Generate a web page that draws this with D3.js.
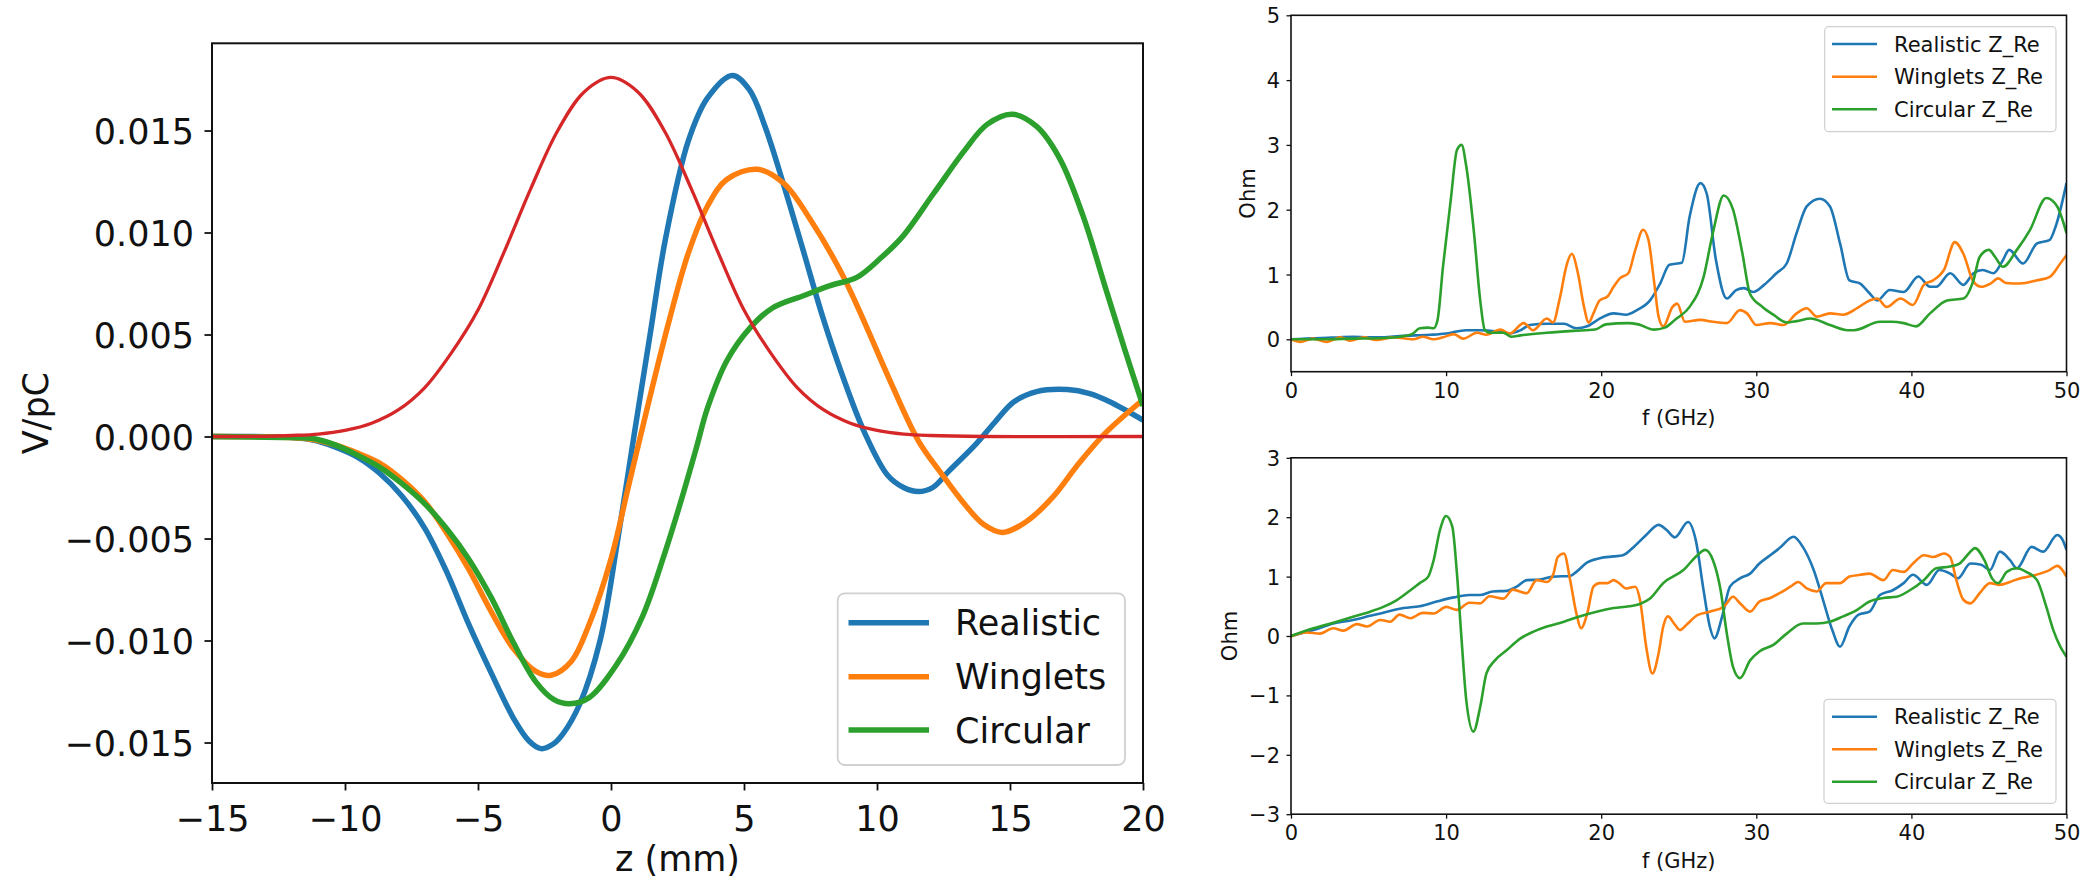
<!DOCTYPE html>
<html>
<head>
<meta charset="utf-8">
<script src="https://cdn.jsdelivr.net/npm/d3@7"></script>
<style>
  body { margin: 0; background: #fff; }
  svg { display: block; }
  text { font-family: "DejaVu Sans", sans-serif; fill: #111; }
</style>
</head>
<body>
<svg id="fig" width="2096" height="881"></svg>
<script>
// ---------- wake potential (left panel): [z (mm), V/pC] ----------
const wakeRealistic = [
  [-15, 0], [-12, -0.00005], [-11.2, -0.00017], [-10.4, -0.0005], [-9.55, -0.001],
  [-8.7, -0.0018], [-7.87, -0.0029], [-7.0, -0.0045], [-6.19, -0.0066],
  [-5.35, -0.0092], [-4.5, -0.0116], [-3.67, -0.0138], [-3.1, -0.0149], [-2.63, -0.0153],
  [-2.2, -0.0151], [-1.82, -0.0146], [-1.17, -0.0131], [-0.41, -0.0100], [0.26, -0.0050],
  [0.86, 0.0000], [1.47, 0.0050], [2.05, 0.0097], [2.91, 0.0145], [3.63, 0.0166],
  [4.56, 0.0177], [5.2, 0.0170], [5.79, 0.0152], [6.5, 0.0123], [7.23, 0.0091],
  [7.95, 0.0059], [8.67, 0.0031], [9.53, 0.0002], [10.4, -0.0019], [11.0, -0.0025],
  [11.55, -0.0027], [12.1, -0.0025], [12.7, -0.0017], [13.7, -0.0004], [14.43, 0.0007],
  [15.15, 0.0017], [16.0, 0.0022], [17.16, 0.0023], [18.0, 0.0021], [18.75, 0.0017],
  [20, 0.0008]
];
const wakeWinglets = [
  [-15, 0], [-12, -0.00005], [-11.2, -0.00015], [-10.4, -0.0004], [-9.55, -0.0008],
  [-8.7, -0.0013], [-7.87, -0.0021], [-7.0, -0.0032], [-6.19, -0.0047], [-5.35, -0.0065],
  [-4.5, -0.0086], [-3.67, -0.0104], [-2.84, -0.0115], [-2.25, -0.0117], [-1.48, -0.0110],
  [-0.82, -0.0092], [0.0, -0.0060], [0.7, -0.0022], [1.4, 0.0016],
  [2.19, 0.0057], [2.91, 0.009], [3.63, 0.0113], [4.35, 0.0126], [5.5, 0.0131],
  [6.5, 0.0124], [7.51, 0.0106], [8.67, 0.008], [9.53, 0.0056], [10.4, 0.003],
  [11.55, -0.0002], [12.41, -0.0018], [13.28, -0.0033], [14.0, -0.0043], [14.72, -0.0047],
  [15.58, -0.0042], [16.59, -0.003], [17.6, -0.0013], [18.61, 0.0002], [20, 0.0018]
];
const wakeCircular = [
  [-15, 0], [-12, -0.00005], [-11.2, -0.0001], [-10.4, -0.0004], [-9.55, -0.0009],
  [-8.7, -0.0015], [-7.87, -0.0023], [-7.0, -0.0033], [-6.19, -0.0045], [-5.35, -0.006],
  [-4.5, -0.0079], [-3.67, -0.0101], [-2.84, -0.0120], [-2.14, -0.0129], [-1.56, -0.0131],
  [-0.82, -0.0128], [0.2, -0.0112], [1.19, -0.0088], [2.0, -0.0058], [2.6, -0.0033],
  [3.2, -0.0006], [3.63, 0.0014], [4.35, 0.0037], [5.21, 0.0053], [6.07, 0.0063],
  [7.23, 0.0069], [8.24, 0.0074], [9.24, 0.0078], [10.1, 0.0087], [10.96, 0.0098],
  [12.12, 0.0119], [13.28, 0.014], [14.14, 0.0153], [15.08, 0.0158], [16.0, 0.0152],
  [16.88, 0.0136], [17.75, 0.0108], [18.61, 0.0072], [19.33, 0.0042], [20, 0.0015]
];
const bunchProfile = [
  [-15, 0], [-13, 0.00001], [-12, 0.00005], [-11, 0.00012], [-10, 0.0003], [-9, 0.00065],
  [-8, 0.0013], [-7, 0.0024], [-6, 0.0041], [-5, 0.0062], [-4, 0.0091], [-3, 0.0122],
  [-2, 0.0150], [-1, 0.0169], [0, 0.0176], [1, 0.0169], [2, 0.0150], [3, 0.0122],
  [4, 0.0091], [5, 0.0062], [6, 0.0041], [7, 0.0024], [8, 0.0013], [9, 0.00065],
  [10, 0.0003], [11, 0.00012], [12, 0.00005], [14, 0], [20, 0]
];

// ---------- impedance, upper right: [f (GHz), Ohm] ----------
const zUpperRealistic = [
  [0, 0], [1, 0.01], [2, 0.02], [3, 0.03], [4, 0.04], [5, 0.03], [6, 0.03], [7, 0.05],
  [8, 0.06], [9, 0.07], [10, 0.09], [10.7, 0.12], [11.3, 0.14], [12.2, 0.14], [13.3, 0.12],
  [14.1, 0.09], [14.8, 0.14], [15.4, 0.22], [16.5, 0.24], [17.6, 0.24], [18.4, 0.17],
  [19.1, 0.2], [19.9, 0.32], [20.8, 0.4], [21.6, 0.38], [22.3, 0.45], [23.15, 0.6],
  [23.8, 0.86], [24.4, 1.15], [25.2, 1.18], [25.7, 1.89], [26.4, 2.41], [26.8, 2.25],
  [27.4, 1.22], [28.1, 0.63], [28.7, 0.76], [29.2, 0.79], [29.8, 0.73], [30.5, 0.84],
  [31.3, 1.02], [31.96, 1.17], [32.6, 1.64], [33.25, 2.05], [34.1, 2.17], [34.75, 2.05],
  [35.4, 1.48], [36.0, 0.91], [36.7, 0.86], [37.3, 0.71], [37.8, 0.6], [38.6, 0.76],
  [39.5, 0.73], [40.45, 0.97], [41.2, 0.81], [41.6, 0.81], [42.5, 1.02], [43.35, 0.84],
  [44.0, 1.02], [44.6, 1.07], [45.3, 1.02], [45.9, 1.22], [46.3, 1.38], [47.2, 1.17],
  [48.1, 1.48], [48.9, 1.53], [49.3, 1.74], [50, 2.41]
];
const zUpperWinglets = [
  [0, 0], [0.6, -0.04], [1.4, 0.01], [2.3, -0.04], [3.2, 0.03], [3.8, -0.02], [4.7, 0.03],
  [5.5, -0.01], [6.6, 0.03], [7.9, 0.0], [8.5, 0.04], [9.2, 0.0], [9.8, 0.03], [10.5, 0.08],
  [11.1, 0.01], [12.0, 0.1], [12.6, 0.07], [13.5, 0.15], [14.1, 0.09], [15.0, 0.25],
  [15.6, 0.14], [16.5, 0.32], [16.9, 0.26], [17.3, 0.6], [17.8, 1.17], [18.1, 1.32],
  [18.5, 1.02], [18.85, 0.55], [19.2, 0.26], [19.5, 0.4], [19.9, 0.6], [20.4, 0.66],
  [20.8, 0.81], [21.2, 0.94], [21.75, 1.02], [22.2, 1.38], [22.7, 1.69], [23.05, 1.53],
  [23.4, 0.91], [23.7, 0.35], [24.0, 0.2], [24.6, 0.5], [24.9, 0.55], [25.4, 0.27],
  [26.4, 0.3], [27.2, 0.27], [28.1, 0.25], [28.95, 0.45], [29.4, 0.4], [30.0, 0.22],
  [30.9, 0.25], [31.75, 0.22], [32.6, 0.4], [33.25, 0.48], [33.9, 0.35], [34.75, 0.4],
  [35.6, 0.38], [36.5, 0.48], [37.3, 0.6], [37.8, 0.63], [38.4, 0.5], [39.3, 0.63],
  [40.1, 0.53], [40.8, 0.84], [41.4, 0.91], [42.1, 1.07], [42.8, 1.5], [43.35, 1.32],
  [44.0, 0.89], [44.5, 0.81], [45.1, 0.86], [45.6, 0.94], [46.1, 0.87], [47.0, 0.86],
  [48.1, 0.91], [48.9, 0.96], [49.6, 1.17], [50, 1.3]
];
const zUpperCircular = [
  [0, 0], [2, 0], [4, 0.01], [6, 0.02], [7, 0.04], [7.8, 0.08], [8.3, 0.17], [8.85, 0.18],
  [9.2, 0.17], [9.45, 0.3], [9.8, 1.12], [10.3, 2.15], [10.7, 2.92], [11.0, 3.0],
  [11.3, 2.67], [11.8, 1.64], [12.2, 0.6], [12.5, 0.14], [12.8, 0.1], [13.7, 0.1],
  [14.2, 0.04], [14.8, 0.06], [16.5, 0.1], [18.2, 0.13], [19.6, 0.15], [20.3, 0.23],
  [21.7, 0.25], [22.4, 0.23], [23.4, 0.15], [24.1, 0.18], [24.8, 0.31], [25.7, 0.5],
  [26.6, 0.96], [27.2, 1.64], [27.9, 2.22], [28.5, 2.0], [29.1, 1.33], [29.6, 0.7],
  [30.4, 0.5], [31.1, 0.38], [31.96, 0.26], [32.6, 0.28], [33.5, 0.32], [34.75, 0.22],
  [35.9, 0.14], [36.3, 0.14], [37.97, 0.27], [38.7, 0.27], [39.5, 0.25], [40.3, 0.2],
  [41.2, 0.4], [42.3, 0.6], [43.35, 0.63], [44.0, 0.91], [44.4, 1.27], [45.0, 1.38],
  [45.4, 1.27], [45.9, 1.12], [46.8, 1.38], [47.65, 1.69], [48.7, 2.18], [49.4, 2.05],
  [50, 1.64]
];

// ---------- impedance, lower right: [f (GHz), Ohm] ----------
const zLowerRealistic = [
  [0, 0], [1.44, 0.1], [2.73, 0.21], [4.0, 0.27], [5.1, 0.34], [6.2, 0.41], [7.25, 0.47],
  [8.3, 0.5], [9.4, 0.58], [10.5, 0.65], [11.5, 0.69], [12.2, 0.69], [13.0, 0.75],
  [13.9, 0.76], [14.55, 0.83], [15.2, 0.94], [16.05, 0.95], [16.9, 1.0], [18.0, 1.01],
  [18.4, 1.08], [19.1, 1.24], [19.9, 1.31], [20.8, 1.34], [21.4, 1.36], [22.1, 1.5],
  [22.9, 1.7], [23.7, 1.87], [24.2, 1.79], [24.75, 1.66], [25.6, 1.92], [26.1, 1.61],
  [26.6, 0.77], [27.0, 0.16], [27.3, -0.04], [27.8, 0.33], [28.3, 0.83], [28.95, 0.97],
  [29.6, 1.05], [30.2, 1.22], [30.9, 1.36], [31.5, 1.48], [32.4, 1.67], [33.0, 1.5],
  [33.7, 1.11], [34.3, 0.61], [34.9, 0.1], [35.4, -0.18], [36.0, 0.16], [36.6, 0.36],
  [37.3, 0.41], [37.97, 0.69], [38.8, 0.77], [39.5, 0.89], [40.1, 1.03], [41.0, 0.86],
  [41.8, 1.11], [42.5, 1.05], [43.0, 0.97], [43.8, 1.22], [44.5, 1.2], [45.06, 1.11],
  [45.7, 1.42], [46.35, 1.28], [46.8, 1.14], [47.75, 1.5], [48.5, 1.42], [49.4, 1.7],
  [49.7, 1.64], [50, 1.45]
];
const zLowerWinglets = [
  [0, -0.01], [1.0, 0.06], [1.87, 0.04], [2.73, 0.13], [3.38, 0.09], [4.24, 0.2],
  [4.9, 0.16], [5.74, 0.27], [6.4, 0.24], [7.0, 0.36], [7.7, 0.3], [8.5, 0.39], [9.2, 0.38],
  [10.0, 0.49], [10.7, 0.44], [11.5, 0.56], [12.2, 0.55], [12.8, 0.67], [13.7, 0.63],
  [14.3, 0.78], [15.2, 0.72], [15.84, 0.94], [16.5, 0.91], [16.9, 1.03], [17.2, 1.33],
  [17.6, 1.39], [18.0, 0.94], [18.4, 0.38], [18.7, 0.13], [19.1, 0.38], [19.5, 0.83],
  [19.9, 0.89], [20.4, 0.89], [20.8, 0.94], [21.2, 0.88], [21.6, 0.8], [22.2, 0.83],
  [22.5, 0.61], [22.9, -0.18], [23.3, -0.63], [23.7, -0.29], [24.0, 0.16], [24.3, 0.33],
  [24.75, 0.19], [25.08, 0.1], [25.5, 0.19], [26.2, 0.35], [27.0, 0.41], [27.9, 0.49],
  [28.5, 0.66], [28.95, 0.55], [29.6, 0.41], [30.2, 0.58], [30.9, 0.64], [31.5, 0.72],
  [32.2, 0.83], [32.7, 0.91], [33.25, 0.8], [33.9, 0.75], [34.5, 0.89], [35.4, 0.89],
  [36.0, 1.0], [36.7, 1.03], [37.3, 1.05], [38.2, 0.94], [38.8, 1.11], [39.5, 1.08],
  [40.1, 1.22], [40.8, 1.36], [41.4, 1.33], [42.1, 1.39], [42.5, 1.33], [42.9, 0.94],
  [43.35, 0.61], [43.8, 0.55], [44.4, 0.72], [45.06, 0.89], [45.7, 0.86], [46.35, 0.91],
  [47.0, 0.97], [47.6, 1.0], [48.3, 1.05], [48.9, 1.11], [49.4, 1.18], [50, 1.0]
];
const zLowerCircular = [
  [0, 0], [1.44, 0.13], [2.73, 0.225], [4.0, 0.325], [5.1, 0.41], [5.95, 0.49], [6.8, 0.6],
  [7.7, 0.77], [8.3, 0.89], [8.85, 1.0], [9.2, 1.28], [9.6, 1.78], [10.0, 2.02],
  [10.4, 1.84], [10.7, 1.05], [11.0, -0.07], [11.3, -1.08], [11.76, -1.61], [12.2, -1.19],
  [12.6, -0.63], [13.15, -0.41], [13.9, -0.24], [14.8, -0.04], [15.6, 0.07], [16.5, 0.16],
  [17.6, 0.24], [18.6, 0.33], [19.7, 0.41], [20.8, 0.47], [21.8, 0.5], [22.5, 0.54],
  [23.15, 0.63], [24.0, 0.89], [25.3, 1.11], [26.2, 1.36], [26.7, 1.45], [27.2, 1.28],
  [27.7, 0.77], [28.1, 0.04], [28.5, -0.52], [28.95, -0.71], [29.6, -0.41], [30.2, -0.26],
  [31.1, -0.15], [31.96, 0.04], [33.0, 0.21], [33.9, 0.21], [34.75, 0.24], [35.6, 0.33],
  [36.5, 0.44], [37.3, 0.58], [38.2, 0.64], [39.05, 0.66], [39.9, 0.77], [40.8, 0.94],
  [41.6, 1.14], [42.5, 1.17], [43.1, 1.22], [43.7, 1.39], [44.1, 1.48], [44.7, 1.28],
  [45.2, 0.97], [45.6, 0.89], [46.15, 1.08], [46.8, 1.14], [47.4, 1.08], [48.1, 0.94],
  [48.7, 0.49], [49.15, 0.1], [49.6, -0.18], [50, -0.35]
];

// ---------- tick values and labels ----------
const wakeZTicks = [-15, -10, -5, 0, 5, 10, 15, 20];
const wakeVTicks = [-0.015, -0.010, -0.005, 0.000, 0.005, 0.010, 0.015];
const freqTicks = [0, 10, 20, 30, 40, 50];
const upperOhmTicks = [0, 1, 2, 3, 4, 5];
const lowerOhmTicks = [-3, -2, -1, 0, 1, 2, 3];
const wakeLegend = ["Realistic", "Winglets", "Circular"];
const impedanceLegend = ["Realistic Z_Re", "Winglets Z_Re", "Circular Z_Re"];

const BLUE = "#1f77b4", ORANGE = "#ff7f0e", GREEN = "#2ca02c", RED = "#d62728";

const svg = d3.select("#fig");
svg.append("rect").attr("width", 2096).attr("height", 881).attr("fill", "#fff");
const defs = svg.append("defs");
let clipCount = 0;

function panel(cfg) {
  const g = svg.append("g");
  const x = d3.scaleLinear().domain(cfg.xDomain).range([cfg.left, cfg.right]);
  const y = d3.scaleLinear().domain(cfg.yDomain).range([cfg.bottom, cfg.top]);
  const id = "clip" + (clipCount++);
  defs.append("clipPath").attr("id", id).append("rect")
    .attr("x", cfg.left).attr("y", cfg.top)
    .attr("width", cfg.right - cfg.left).attr("height", cfg.bottom - cfg.top);

  const line = d3.line().x(d => x(d[0])).y(d => y(d[1])).curve(cfg.curve);
  const plot = g.append("g").attr("clip-path", `url(#${id})`);
  cfg.series.forEach(s => {
    plot.append("path").datum(s.data)
      .attr("d", line).attr("fill", "none")
      .attr("stroke", s.color).attr("stroke-width", s.width)
      .attr("stroke-linejoin", "round").attr("stroke-linecap", "butt");
  });

  // axes
  const ax = g.append("g").attr("transform", `translate(0,${cfg.bottom})`)
    .call(d3.axisBottom(x).tickValues(cfg.xTicks).tickFormat(cfg.xFormat)
      .tickSize(cfg.tickLen).tickPadding(cfg.xPad));
  const ay = g.append("g").attr("transform", `translate(${cfg.left},0)`)
    .call(d3.axisLeft(y).tickValues(cfg.yTicks).tickFormat(cfg.yFormat)
      .tickSize(cfg.tickLen).tickPadding(cfg.yPad));
  [ax, ay].forEach(a => {
    a.select(".domain").remove();
    a.selectAll(".tick line").attr("stroke", "#111").attr("stroke-width", cfg.tickWidth);
    a.selectAll(".tick text").attr("font-size", cfg.fontSize)
      .attr("font-family", "DejaVu Sans").attr("fill", "#111");
  });
  ay.selectAll(".tick text").attr("dy", "0.36em");

  // frame
  g.append("rect").attr("x", cfg.left).attr("y", cfg.top)
    .attr("width", cfg.right - cfg.left).attr("height", cfg.bottom - cfg.top)
    .attr("fill", "none").attr("stroke", "#111").attr("stroke-width", cfg.frameWidth);

  // axis titles
  g.append("text").attr("x", (cfg.left + cfg.right) / 2).attr("y", cfg.xTitleY)
    .attr("text-anchor", "middle").attr("font-size", cfg.fontSize).text(cfg.xTitle);
  g.append("text")
    .attr("transform", `translate(${cfg.yTitleX},${(cfg.top + cfg.bottom) / 2}) rotate(-90)`)
    .attr("text-anchor", "middle").attr("font-size", cfg.fontSize).text(cfg.yTitle);

  // legend
  const L = cfg.legend;
  const lg = g.append("g");
  lg.append("rect").attr("x", L.x0).attr("y", L.y0)
    .attr("width", L.x1 - L.x0).attr("height", L.y1 - L.y0)
    .attr("rx", L.r).attr("fill", "#fff").attr("fill-opacity", 0.8)
    .attr("stroke", "#d0d0d0").attr("stroke-width", L.stroke);
  L.labels.forEach((lab, i) => {
    const s = cfg.series[i];
    const yy = L.rows[i];
    lg.append("line").attr("x1", L.lineX0).attr("x2", L.lineX1)
      .attr("y1", yy).attr("y2", yy)
      .attr("stroke", s.color).attr("stroke-width", s.width);
    lg.append("text").attr("x", L.textX).attr("y", yy).attr("dy", "0.36em")
      .attr("font-size", cfg.fontSize).text(lab);
  });
}

const fmt3 = d3.format(".3f");
const fmtInt = d3.format("d");

// left: wake potentials with the bunch profile
panel({
  left: 212, right: 1143, top: 43.3, bottom: 783,
  xDomain: [-15, 20], yDomain: [-0.016985, 0.019275],
  xTicks: wakeZTicks, yTicks: wakeVTicks, xFormat: fmtInt, yFormat: fmt3,
  tickLen: 7.5, tickWidth: 1.8, xPad: 15.5, yPad: 10.5, frameWidth: 2,
  fontSize: 35, curve: d3.curveCatmullRom.alpha(0.5),
  xTitle: "z (mm)", xTitleY: 871, yTitle: "V/pC", yTitleX: 48,
  series: [
    { data: wakeRealistic, color: BLUE, width: 5.5 },
    { data: wakeWinglets, color: ORANGE, width: 5.5 },
    { data: wakeCircular, color: GREEN, width: 5.5 },
    { data: bunchProfile, color: RED, width: 3.3 }
  ],
  legend: { x0: 837.7, x1: 1125, y0: 593.3, y1: 765, r: 7, stroke: 1.8,
    lineX0: 848.5, lineX1: 929, textX: 955, rows: [622.7, 676.7, 730], labels: wakeLegend }
});

// upper right: impedance
panel({
  left: 1291, right: 2066.5, top: 15.3, bottom: 371.7,
  xDomain: [0, 50], yDomain: [-0.5, 5],
  xTicks: freqTicks, yTicks: upperOhmTicks, xFormat: fmtInt, yFormat: fmtInt,
  tickLen: 4.5, tickWidth: 1.3, xPad: 6.5, yPad: 6.5, frameWidth: 1.6,
  fontSize: 21, curve: d3.curveMonotoneX,
  xTitle: "f (GHz)", xTitleY: 425, yTitle: "Ohm", yTitleX: 1255,
  series: [
    { data: zUpperRealistic, color: BLUE, width: 2.6 },
    { data: zUpperWinglets, color: ORANGE, width: 2.6 },
    { data: zUpperCircular, color: GREEN, width: 2.6 }
  ],
  legend: { x0: 1824.7, x1: 2056, y0: 26.7, y1: 131.7, r: 4, stroke: 1.2,
    lineX0: 1832, lineX1: 1877, textX: 1894, rows: [44, 76.7, 109.3], labels: impedanceLegend }
});

// lower right: impedance
panel({
  left: 1291, right: 2066.5, top: 457.8, bottom: 814.2,
  xDomain: [0, 50], yDomain: [-3, 3],
  xTicks: freqTicks, yTicks: lowerOhmTicks, xFormat: fmtInt, yFormat: fmtInt,
  tickLen: 4.5, tickWidth: 1.3, xPad: 6.5, yPad: 6.5, frameWidth: 1.6,
  fontSize: 21, curve: d3.curveMonotoneX,
  xTitle: "f (GHz)", xTitleY: 868, yTitle: "Ohm", yTitleX: 1236.5,
  series: [
    { data: zLowerRealistic, color: BLUE, width: 2.6 },
    { data: zLowerWinglets, color: ORANGE, width: 2.6 },
    { data: zLowerCircular, color: GREEN, width: 2.6 }
  ],
  legend: { x0: 1824, x1: 2056, y0: 699.3, y1: 803.3, r: 4, stroke: 1.2,
    lineX0: 1832, lineX1: 1877, textX: 1894, rows: [716.7, 749.3, 781.7], labels: impedanceLegend }
});
</script>
</body>
</html>
